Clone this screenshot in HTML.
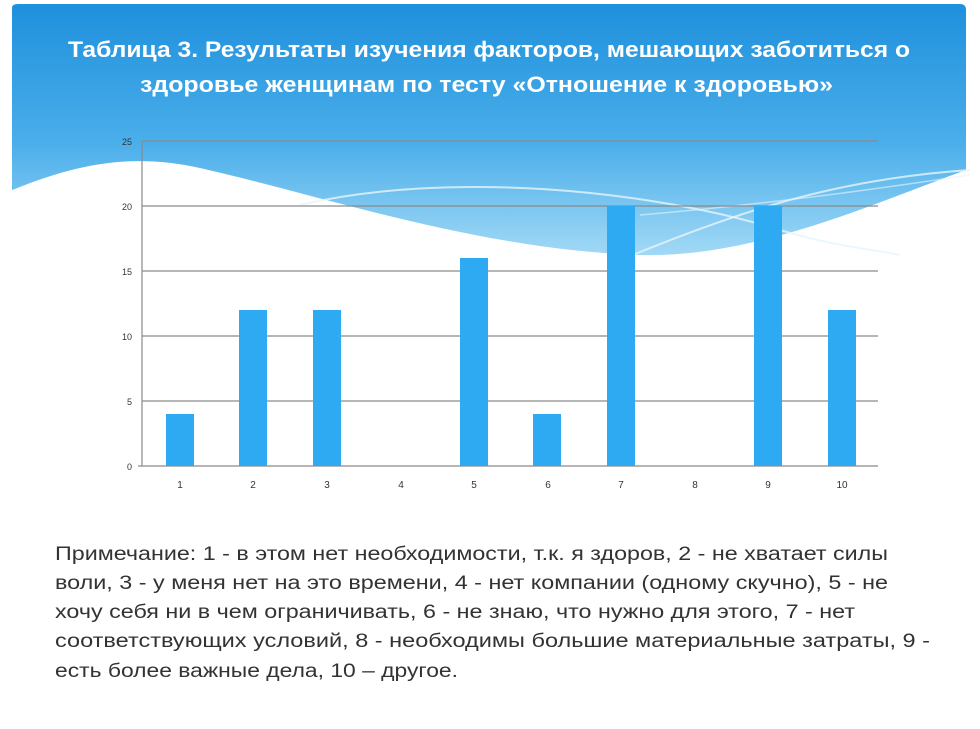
<!DOCTYPE html>
<html><head><meta charset="utf-8"><style>
html,body{margin:0;padding:0;background:#fff;}
svg{display:block;font-family:"Liberation Sans",sans-serif;}
</style></head><body>
<svg width="980" height="729" viewBox="0 0 980 729" xmlns="http://www.w3.org/2000/svg">
<defs>
<linearGradient id="bg" x1="0" y1="0" x2="0" y2="1">
<stop offset="0" stop-color="#1e90dc"/>
<stop offset="0.5" stop-color="#4aaeea"/>
<stop offset="1" stop-color="#b5e2f8"/>
</linearGradient>
</defs>
<rect x="0" y="0" width="980" height="729" fill="#fff"/>
<path d="M12,8 Q12,4 18,4 L960,4 Q966,4 966,10 L966,280 L12,280 Z" fill="url(#bg)"/>
<path d="M0,195 C60,170 120,150 200,168 C320,195 480,250 640,255 C760,258 880,200 980,165 L980,300 L0,300 Z" fill="#fff"/>
<path d="M300,205 C450,170 650,190 780,230 C840,248 880,250 900,255" stroke="#e6f5fd" stroke-width="2" fill="none" opacity="0.8"/>
<path d="M620,260 C720,220 820,180 970,170" stroke="#e6f5fd" stroke-width="2" fill="none" opacity="0.8"/>
<path d="M640,215 C760,205 870,190 970,175" stroke="#e6f5fd" stroke-width="1.5" fill="none" opacity="0.6"/>
<text x="68" y="57" textLength="842" lengthAdjust="spacingAndGlyphs" fill="#fff" font-weight="bold" font-size="22">Таблица 3. Результаты изучения  факторов, мешающих  заботиться  о</text>
<text x="140" y="92" textLength="693" lengthAdjust="spacingAndGlyphs" fill="#fff" font-weight="bold" font-size="22">здоровье женщинам  по тесту «Отношение к здоровью»</text>
<g stroke="#8a8a8a" stroke-width="1.2">
<line x1="142" y1="141" x2="878" y2="141"/>
<line x1="142" y1="206" x2="878" y2="206"/>
<line x1="142" y1="271" x2="878" y2="271"/>
<line x1="142" y1="336" x2="878" y2="336"/>
<line x1="142" y1="401" x2="878" y2="401"/>
<line x1="142" y1="141" x2="142" y2="466"/>
<line x1="138" y1="466" x2="878" y2="466"/>
</g>
<g fill="#2eaaf2">
<rect x="166" y="414" width="28" height="52"/>
<rect x="239" y="310" width="28" height="156"/>
<rect x="313" y="310" width="28" height="156"/>
<rect x="460" y="258" width="28" height="208"/>
<rect x="533" y="414" width="28" height="52"/>
<rect x="607" y="206" width="28" height="260"/>
<rect x="754" y="206" width="28" height="260"/>
<rect x="828" y="310" width="28" height="156"/>
</g>
<g font-size="9" fill="#333" text-anchor="end">
<text x="132" y="145">25</text><text x="132" y="210">20</text><text x="132" y="275">15</text>
<text x="132" y="340">10</text><text x="132" y="405">5</text><text x="132" y="470">0</text>
</g>
<g font-size="10" fill="#333" text-anchor="middle">
<text x="180" y="488">1</text><text x="253" y="488">2</text><text x="327" y="488">3</text>
<text x="401" y="488">4</text><text x="474" y="488">5</text><text x="548" y="488">6</text>
<text x="621" y="488">7</text><text x="695" y="488">8</text><text x="768" y="488">9</text>
<text x="842" y="488">10</text>
</g>
<g font-size="19" fill="#333">
<text x="55" y="560" textLength="833" lengthAdjust="spacingAndGlyphs">Примечание: 1 - в этом нет необходимости, т.к. я здоров,  2 - не хватает  силы</text>
<text x="55" y="589" textLength="833" lengthAdjust="spacingAndGlyphs">воли, 3 - у меня нет на это времени, 4 - нет компании (одному скучно), 5 - не</text>
<text x="55" y="618" textLength="800" lengthAdjust="spacingAndGlyphs">хочу себя ни в чем ограничивать,  6 - не знаю, что нужно для этого, 7 - нет</text>
<text x="55" y="647" textLength="875" lengthAdjust="spacingAndGlyphs">соответствующих  условий, 8 - необходимы большие материальные затраты,  9 -</text>
<text x="55" y="677" textLength="403" lengthAdjust="spacingAndGlyphs">есть более важные дела, 10 – другое.</text>
</g>
</svg>
</body></html>
